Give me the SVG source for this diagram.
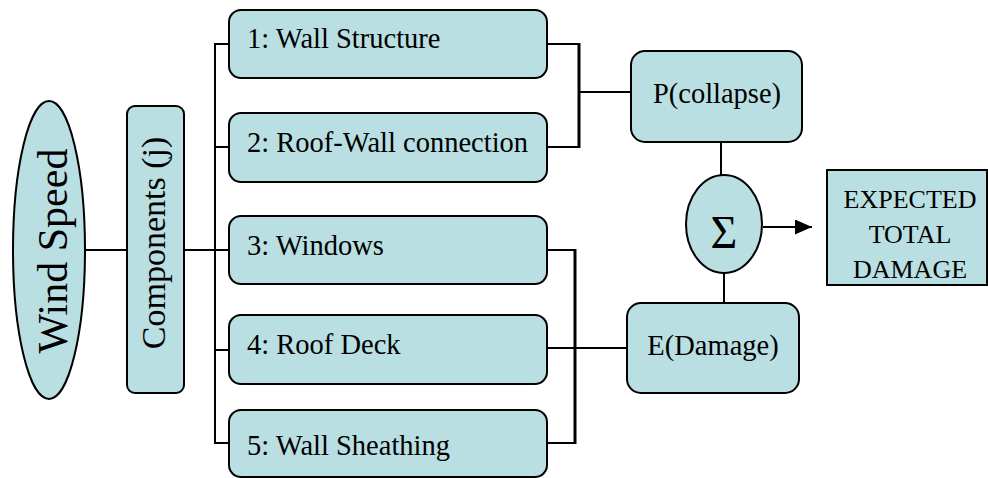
<svg xmlns="http://www.w3.org/2000/svg" width="988" height="478" viewBox="0 0 988 478">
<defs>
<style>
.n{fill:#b9dfe2;stroke:#000;stroke-width:2}
.t{font-family:"Liberation Serif","Times New Roman",serif;font-size:28.5px;fill:#000}
.c{fill:none;stroke:#000;stroke-width:2}
.k{fill:none;stroke:#000;stroke-width:3}
</style>
<marker id="ah" markerWidth="17" markerHeight="15" refX="17" refY="7.5" orient="auto" markerUnits="userSpaceOnUse">
<path d="M0,0 L17,7.5 L0,15 Z" fill="#000"/>
</marker>
</defs>
<rect width="988" height="478" fill="#fff"/>
<g id="connectors">
<line class="c" x1="85" y1="250" x2="127" y2="250"/>
<line class="c" x1="184" y1="250" x2="229" y2="250"/>
<polyline class="c" points="229,44 215,44 215,443 229,443"/>
<line class="c" x1="215" y1="147" x2="229" y2="147"/>
<line class="c" x1="215" y1="350" x2="229" y2="350"/>
<line class="c" x1="547" y1="44" x2="579" y2="44"/>
<line class="c" x1="547" y1="147" x2="579" y2="147"/>
<line class="k" x1="579" y1="43" x2="579" y2="148"/>
<line class="c" x1="579" y1="92" x2="631" y2="92"/>
<line class="c" x1="547" y1="250" x2="575" y2="250"/>
<line class="c" x1="547" y1="348" x2="575" y2="348"/>
<line class="c" x1="547" y1="443" x2="575" y2="443"/>
<line class="k" x1="575" y1="249" x2="575" y2="444"/>
<line class="c" x1="575" y1="348" x2="627" y2="348"/>
<line class="c" x1="721" y1="142" x2="721" y2="176"/>
<line class="c" x1="724" y1="272" x2="724" y2="303"/>
<line class="c" x1="763" y1="227" x2="812" y2="227" marker-end="url(#ah)"/>
</g>
<g id="wind-speed">
<ellipse class="n" cx="49" cy="250" rx="36" ry="149"/>
<text class="t" style="font-size:42px" text-anchor="middle" transform="translate(67,251) rotate(-90)">Wind Speed</text>
</g>
<g id="components">
<rect class="n" x="127" y="106" width="57" height="287" rx="8"/>
<text class="t" style="font-size:34px" text-anchor="middle" transform="translate(165,243) rotate(-90)">Components (j)</text>
</g>
<g id="c1">
<rect class="n" x="229" y="10" width="318" height="68" rx="12"/>
<text class="t" x="247" y="48">1: Wall Structure</text>
</g>
<g id="c2">
<rect class="n" x="229" y="113" width="318" height="69" rx="12"/>
<text class="t" x="247" y="152">2: Roof-Wall connection</text>
</g>
<g id="c3">
<rect class="n" x="229" y="216" width="318" height="68" rx="12"/>
<text class="t" x="247" y="255">3: Windows</text>
</g>
<g id="c4">
<rect class="n" x="229" y="315" width="318" height="69" rx="12"/>
<text class="t" x="247" y="354">4: Roof Deck</text>
</g>
<g id="c5">
<rect class="n" x="229" y="410" width="318" height="67" rx="12"/>
<text class="t" x="247" y="455">5: Wall Sheathing</text>
</g>
<g id="p-collapse">
<rect class="n" x="631" y="51" width="171" height="91" rx="14"/>
<text class="t" x="717" y="103" text-anchor="middle">P(collapse)</text>
</g>
<g id="e-damage">
<rect class="n" x="627" y="303" width="172" height="90" rx="14"/>
<text class="t" x="713" y="355" text-anchor="middle">E(Damage)</text>
</g>
<g id="sum">
<ellipse class="n" cx="724" cy="224" rx="38" ry="49"/>
<text class="t" style="font-size:46px" x="724" y="248" text-anchor="middle">Σ</text>
</g>
<g id="total">
<rect class="n" x="827" y="170" width="160" height="115"/>
<text class="t" style="font-size:26px" text-anchor="middle"><tspan x="910" y="208">EXPECTED</tspan><tspan x="910" y="243">TOTAL</tspan><tspan x="910" y="278">DAMAGE</tspan></text>
</g>
</svg>
